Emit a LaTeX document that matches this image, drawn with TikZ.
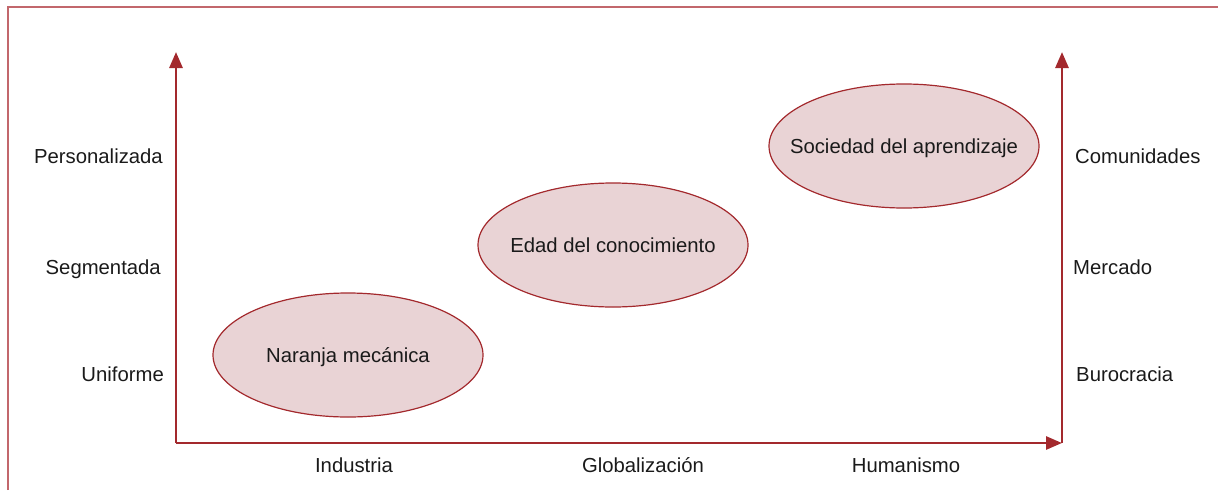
\documentclass[tikz,border=0pt]{standalone}
\usepackage{fontspec}
\setmainfont{Liberation Sans}
\usepackage{xcolor}
\usepackage{tikz}
\usetikzlibrary{positioning}
\usetikzlibrary{arrows.meta}
\usetikzlibrary{shapes.geometric}
\definecolor{axisred}{HTML}{A3292D}
\definecolor{framered}{HTML}{C2676C}
\definecolor{ovalfill}{HTML}{E9D3D5}
\definecolor{textgray}{HTML}{1A1A1A}
\newcommand{\ovaltext}[1]{\makebox[0pt]{#1}}

\begin{document}
\begin{tikzpicture}[
      x=1pt, y=-1pt,
      font=\fontsize{20.3}{24}\selectfont,
      type-frame/.style={draw=framered, line width=2pt},
      type-axis/.style={draw=axisred, line width=2.8pt, -{Triangle[length=16pt,width=13pt]}},
      type-oval/.style={ellipse, draw=axisred, fill=ovalfill, line width=1.2pt,
        minimum width=270pt, minimum height=124pt, inner sep=0pt,
        text=textgray, text height=14.6pt, text depth=0pt},
      type-left/.style={anchor=base east, text=textgray, inner sep=0pt},
      type-right/.style={anchor=base west, text=textgray, inner sep=0pt},
      type-bottom/.style={anchor=base, text=textgray, inner sep=0pt}
    ]
      \useasboundingbox (0,0) rectangle (1218,490);
      % frame
      \draw[type-frame] (8,490) -- (8,7) -- (1218,7);
      % axes
      \coordinate (origin) at (176,443);
      \coordinate (left-top) at (176,52);
      \coordinate (right-bottom) at (1062,443);
      \coordinate (right-top) at (1062,52);
      \draw[type-axis] (origin) -- (left-top);
      \draw[type-axis] (origin) -- (right-bottom);
      \draw[type-axis] (right-bottom) -- (right-top);
      % stages
      \node[type-oval] (naranja) at (348,355) {\ovaltext{Naranja mecánica}};
      \node[type-oval] (edad) at (613,245) {\ovaltext{Edad del conocimiento}};
      \node[type-oval] (sociedad) at (904,146) {\ovaltext{Sociedad del aprendizaje}};
      % left scale
      \node[type-left] (personalizada) at (163,163) {Personalizada};
      \node[type-left] (segmentada) at (161,274) {Segmentada};
      \node[type-left] (uniforme) at (164,381) {Uniforme};
      % right scale
      \node[type-right] (comunidades) at (1075,163) {Comunidades};
      \node[type-right] (mercado) at (1073,274) {Mercado};
      \node[type-right] (burocracia) at (1076,381) {Burocracia};
      % bottom scale
      \node[type-bottom] (industria) at (354,472) {Industria};
      \node[type-bottom] (globalizacion) at (643,472) {Globalización};
      \node[type-bottom] (humanismo) at (906,472) {Humanismo};
    \end{tikzpicture}
\end{document}
